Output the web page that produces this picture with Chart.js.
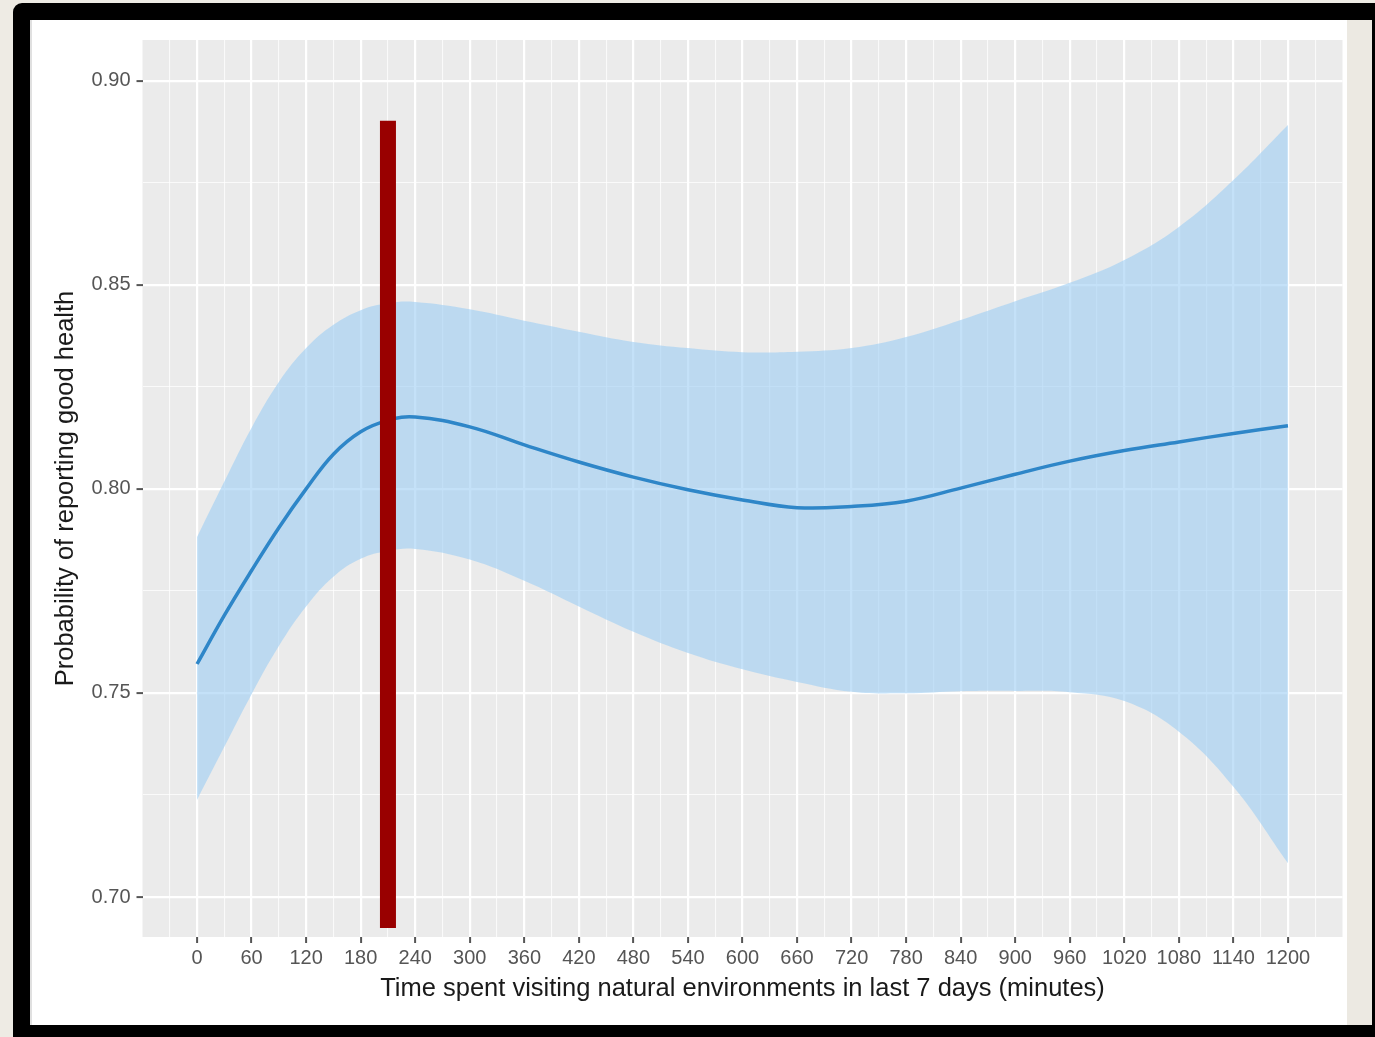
<!DOCTYPE html>
<html lang="en">
<head>
<meta charset="UTF-8">
<title>Probability of reporting good health</title>
<script src="https://cdn.jsdelivr.net/npm/chart.js"></script>
<style>
    body { margin: 0; width: 1375px; height: 1037px; background: #eeebe4; overflow: hidden; position: relative; }
    .frame { position: absolute; left: 13px; top: 3px; width: 1390px; height: 1060px; background: #000; border-radius: 9px; }
    .inner { position: absolute; left: 30px; top: 20px; width: 1342px; height: 1005px; background: #ece9e2; }
    .card { position: absolute; left: 30px; top: 20px; width: 1317px; height: 1005px; background: #fff; box-shadow: inset 2px 0 0 #e0e0e0; }
    .card div { position: relative; width: 1317px; height: 1005px; }
</style>
</head>
<body>
<div class="frame"></div>
<div class="inner"></div>
<div class="card"><div><canvas id="healthChart"></canvas></div></div>
<script>
// values
const xMinutes  = [0, 30, 60, 90, 120, 150, 180, 210, 240, 300, 360, 420, 480, 540, 600, 660, 720, 780, 840, 900, 960, 1020, 1080, 1140, 1200];
const fitProb   = [0.7571, 0.7690, 0.7800, 0.7905, 0.8000, 0.8085, 0.8140, 0.8168, 0.8176, 0.8152, 0.8108, 0.8066, 0.8029, 0.7998, 0.7973, 0.7954, 0.7957, 0.7970, 0.8002, 0.8036, 0.8068, 0.8094, 0.8115, 0.8136, 0.8155];
const upperProb = [0.7882, 0.8018, 0.8150, 0.8262, 0.8345, 0.8402, 0.8438, 0.8455, 0.8458, 0.8440, 0.8412, 0.8385, 0.8360, 0.8345, 0.8335, 0.8336, 0.8345, 0.8372, 0.8414, 0.8460, 0.8505, 0.8561, 0.8642, 0.8757, 0.8892];
const lowerProb = [0.7238, 0.7368, 0.7497, 0.7615, 0.7712, 0.7785, 0.7829, 0.7848, 0.7853, 0.7827, 0.7775, 0.7712, 0.7650, 0.7598, 0.7558, 0.7527, 0.7503, 0.7499, 0.7504, 0.7505, 0.7502, 0.7480, 0.7405, 0.7270, 0.7083];

// red marker bar
const markerMinutes = 210;
const markerRange = [0.8902, 0.6924];

const xTickLabels = [0, 60, 120, 180, 240, 300, 360, 420, 480, 540, 600, 660, 720, 780, 840, 900, 960, 1020, 1080, 1140, 1200];
const yTickLabels = ['0.70', '0.75', '0.80', '0.85', '0.90'];
const xTitle = 'Time spent visiting natural environments in last 7 days (minutes)';
const yTitle = 'Probability of reporting good health';

// minor grid lines halfway between the major ones (ggplot style)
const yMajor = yTickLabels.map(Number);
const xGrid = [-30].concat(...xTickLabels.map(v => [v, v + 30]));
const yGrid = [].concat(...yMajor.map((v, i) => i < yMajor.length - 1 ? [v, v + 0.025] : [v]));

const isMajorX = v => xTickLabels.includes(v);
const isMajorY = v => yMajor.some(m => Math.abs(m - v) < 1e-6);

const pts = arr => xMinutes.map((x, i) => ({ x: x, y: arr[i] }));

Chart.defaults.font.family = '"Liberation Sans", Arial, sans-serif';

const panelBg = {
    id: 'panelBg',
    beforeDraw(chart) {
        const { ctx, chartArea: a } = chart;
        ctx.save();
        ctx.fillStyle = '#ebebeb';
        ctx.fillRect(a.left, a.top, a.right - a.left, a.bottom - a.top);
        ctx.restore();
    }
};

new Chart(document.getElementById('healthChart'), {
    type: 'line',
    data: {
        datasets: [
            {
                label: 'marker',
                data: markerRange.map(y => ({ x: markerMinutes, y: y })),
                borderColor: '#990000',
                borderWidth: 16,
                borderCapStyle: 'butt',
                pointRadius: 0,
                tension: 0,
                fill: false
            },
            {
                label: 'fit',
                data: pts(fitProb),
                borderColor: '#2e86c8',
                borderWidth: 3.5,
                pointRadius: 0,
                tension: 0.4,
                fill: false
            },
            {
                label: 'upper',
                data: pts(upperProb),
                borderWidth: 0,
                borderColor: 'transparent',
                backgroundColor: 'rgba(160, 207, 243, 0.62)',
                pointRadius: 0,
                tension: 0.4,
                fill: '+1'
            },
            {
                label: 'lower',
                data: pts(lowerProb),
                borderWidth: 0,
                borderColor: 'transparent',
                pointRadius: 0,
                tension: 0.4,
                fill: false
            }
        ]
    },
    options: {
        responsive: true,
        maintainAspectRatio: false,
        animation: false,
        events: [],
        layout: { padding: { left: 0, right: 4.5, top: 20, bottom: 0 } },
        plugins: {
            legend: { display: false },
            tooltip: { enabled: false }
        },
        scales: {
            x: {
                type: 'linear',
                min: -60,
                max: 1260,
                afterBuildTicks: scale => { scale.ticks = xGrid.map(v => ({ value: v })); },
                afterFit: scale => { scale.height = 88; },
                border: { display: false },
                title: {
                    display: true,
                    text: xTitle,
                    color: '#1a1a1a',
                    font: { size: 25.5 },
                    padding: { top: 0, bottom: 21 }
                },
                grid: {
                    color: c => isMajorX(c.tick.value) ? '#ffffff' : 'rgba(255,255,255,0.75)',
                    lineWidth: c => isMajorX(c.tick.value) ? 2.2 : 1.1,
                    tickLength: 6,
                    tickWidth: 2,
                    tickColor: c => isMajorX(c.tick.value) ? '#555555' : 'transparent'
                },
                ticks: {
                    autoSkip: false,
                    maxRotation: 0,
                    padding: 3,
                    color: '#555555',
                    font: { size: 20 },
                    callback: v => isMajorX(v) ? String(v) : ''
                }
            },
            y: {
                type: 'linear',
                min: 0.6902,
                max: 0.9100,
                afterBuildTicks: scale => { scale.ticks = yGrid.map(v => ({ value: v })); },
                afterFit: scale => { scale.width = 112.5; },
                border: { display: false },
                title: {
                    display: true,
                    text: yTitle,
                    color: '#1a1a1a',
                    font: { size: 25.5 },
                    padding: { top: 21, bottom: 0 }
                },
                grid: {
                    color: c => isMajorY(c.tick.value) ? '#ffffff' : 'rgba(255,255,255,0.75)',
                    lineWidth: c => isMajorY(c.tick.value) ? 2.2 : 1.1,
                    tickLength: 6,
                    tickWidth: 2,
                    tickColor: c => isMajorY(c.tick.value) ? '#555555' : 'transparent'
                },
                ticks: {
                    autoSkip: false,
                    padding: 6,
                    color: '#555555',
                    font: { size: 20 },
                    callback: v => {
                        const i = yMajor.findIndex(m => Math.abs(m - v) < 1e-6);
                        return i >= 0 ? yTickLabels[i] : '';
                    }
                }
            }
        }
    },
    plugins: [panelBg]
});
</script>
</body>
</html>
